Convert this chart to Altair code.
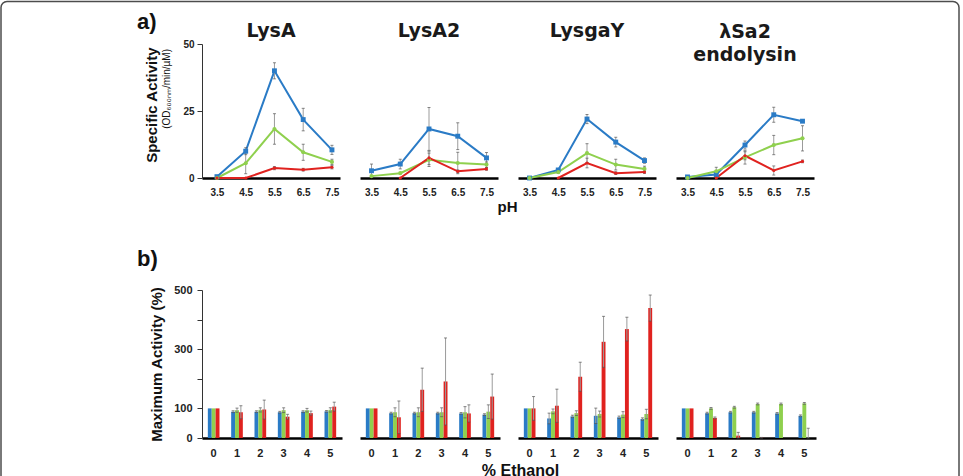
import altair as alt
import pandas as pd

# ---------------- categories ----------------
PH = ["3.5", "4.5", "5.5", "6.5", "7.5"]
ETHANOL = ["0", "1", "2", "3", "4", "5"]
ENZYMES = ["LysA", "LysA2", "LysgaY", "λSa2 endolysin"]
SERIES = ["Series 1", "Series 2", "Series 3"]
COLORS = ["#2a7bc6", "#8fd04e", "#e0221f"]

# ---------------- a) specific activity vs pH ----------------
lysa_blue = [0.5, 10.0, 40.0, 21.8, 10.5]
lysa_blue_err = [0.5, 1.3, 3.0, 4.2, 1.7]
lysa_green = [0.0, 5.5, 18.3, 9.6, 6.0]
lysa_green_err = [0.0, 3.9, 5.7, 3.0, 1.0]
lysa_red = [0.0, 0.0, 3.7, 3.1, 4.0]
lysa_red_err = [0.0, 0.0, 0.6, 0.5, 0.6]

lysa2_blue = [2.7, 5.2, 18.3, 15.6, 7.5]
lysa2_blue_err = [2.5, 1.8, 8.0, 5.0, 2.0]
lysa2_green = [0.7, 1.8, 6.8, 5.6, 5.0]
lysa2_green_err = [0.0, 0.0, 2.5, 4.0, 1.0]
lysa2_red = [None, 0.0, 7.5, 2.5, 3.4]
lysa2_red_err = [0.0, 0.0, 2.5, 0.5, 0.5]

lysgay_blue = [0.0, 3.0, 22.0, 13.4, 6.5]
lysgay_blue_err = [0.0, 0.5, 1.7, 1.8, 1.0]
lysgay_green = [0.0, 2.2, 9.3, 5.0, 3.4]
lysgay_green_err = [0.0, 0.5, 3.5, 2.0, 1.0]
lysgay_red = [None, 0.0, 5.6, 1.8, 2.2]
lysgay_red_err = [0.0, 0.0, 1.8, 0.5, 0.5]

sa2_blue = [0.4, 1.3, 12.3, 23.6, 21.2]
sa2_blue_err = [0.0, 0.5, 1.5, 2.8, 0.5]
sa2_green = [0.0, 2.5, 7.7, 12.3, 14.8]
sa2_green_err = [0.0, 1.5, 2.5, 3.6, 4.7]
sa2_red = [None, 0.0, 8.3, 2.8, 6.2]
sa2_red_err = [0.0, 0.0, 1.5, 1.7, 0.5]

# ---------------- b) maximum activity vs % ethanol ----------------
eth_lysa_blue = [100, 89, 89, 87, 89, 90]
eth_lysa_blue_err = [0, 3, 3, 3, 3, 3]
eth_lysa_green = [100, 94, 95, 94, 94, 95]
eth_lysa_green_err = [0, 7, 7, 8, 6, 7]
eth_lysa_red = [100, 87, 96, 72, 84, 106]
eth_lysa_red_err = [0, 22, 32, 8, 7, 15]

eth_lysa2_blue = [100, 84, 84, 84, 83, 79]
eth_lysa2_blue_err = [0, 3, 3, 3, 3, 3]
eth_lysa2_green = [100, 87, 87, 87, 87, 89]
eth_lysa2_green_err = [0, 15, 15, 15, 19, 23]
eth_lysa2_red = [100, 70, 163, 191, 83, 140]
eth_lysa2_red_err = [0, 55, 73, 147, 29, 76]

eth_lysgay_blue = [100, 66, 73, 75, 70, 64]
eth_lysgay_blue_err = [0, 18, 4, 26, 4, 4]
eth_lysgay_green = [100, 90, 84, 81, 79, 81]
eth_lysgay_green_err = [0, 8, 8, 10, 10, 16]
eth_lysgay_red = [100, 109, 207, 325, 368, 439]
eth_lysgay_red_err = [40, 56, 49, 86, 40, 44]

eth_sa2_blue = [100, 84, 87, 87, 83, 75]
eth_sa2_blue_err = [0, 3, 3, 3, 3, 3]
eth_sa2_green = [100, 100, 104, 115, 115, 117]
eth_sa2_green_err = [0, 3, 3, 3, 3, 3]
eth_sa2_red = [100, 68, 8, 1, 0, 0]
eth_sa2_red_err = [0, 3, 11, 1, 0, 33]

TOP = [
    [(lysa_blue, lysa_blue_err), (lysa_green, lysa_green_err), (lysa_red, lysa_red_err)],
    [(lysa2_blue, lysa2_blue_err), (lysa2_green, lysa2_green_err), (lysa2_red, lysa2_red_err)],
    [(lysgay_blue, lysgay_blue_err), (lysgay_green, lysgay_green_err), (lysgay_red, lysgay_red_err)],
    [(sa2_blue, sa2_blue_err), (sa2_green, sa2_green_err), (sa2_red, sa2_red_err)],
]
BOTTOM = [
    [(eth_lysa_blue, eth_lysa_blue_err), (eth_lysa_green, eth_lysa_green_err), (eth_lysa_red, eth_lysa_red_err)],
    [(eth_lysa2_blue, eth_lysa2_blue_err), (eth_lysa2_green, eth_lysa2_green_err), (eth_lysa2_red, eth_lysa2_red_err)],
    [(eth_lysgay_blue, eth_lysgay_blue_err), (eth_lysgay_green, eth_lysgay_green_err), (eth_lysgay_red, eth_lysgay_red_err)],
    [(eth_sa2_blue, eth_sa2_blue_err), (eth_sa2_green, eth_sa2_green_err), (eth_sa2_red, eth_sa2_red_err)],
]

FONT = "Liberation Sans"
TITLE_FONT = "DejaVu Sans"


def table(cats, key, series_data):
    rows = []
    for s, (vals, errs) in zip(SERIES, series_data):
        for c, v, e in zip(cats, vals, errs):
            if v is None:
                continue
            rows.append({key: c, "series": s, "value": v, "err": e,
                         "lo": max(v - e, 0.0), "hi": v + e})
    return pd.DataFrame(rows)


color = alt.Color("series:N", scale=alt.Scale(domain=SERIES, range=COLORS), legend=None)


def top_panel(i):
    df = table(PH, "pH", TOP[i])
    first = i == 0
    x_kw = dict(labelAngle=0, ticks=False, domainColor="#000", domainWidth=2.5,
                labelFont=FONT, labelFontSize=10, labelFontWeight="bold",
                labelColor="#222", labelPadding=9)
    if first:
        x_kw.update(title="pH", titleFont=FONT, titleFontSize=15, titleFontWeight="bold",
                    titleColor="#111", titleX=305, titleY=33, titleBaseline="alphabetic",
                    titleAlign="center")
    xscale = alt.Scale(type="point", padding=0.4, align=0.65 if first else 0.5)
    x = alt.X("pH:O", sort=PH, scale=xscale,
              axis=alt.Axis(**x_kw), title="pH" if first else None)
    yscale = alt.Scale(domain=[0, 50])
    if first:
        yaxis = alt.Axis(values=[0, 25, 50], title="Specific Activity", titleFont=FONT,
                         titleFontSize=15, titleFontWeight="bold", titleColor="#111",
                         titleX=-51, titleY=3, titleAlign="right", titleBaseline="middle",
                         titleAngle=270, labelFont=FONT, labelFontSize=10,
                         labelFontWeight="bold", labelColor="#222", labelPadding=3,
                         tickSize=5, tickColor="#333", domainColor="#333", grid=False)
    else:
        yaxis = None

    def yenc(field):
        return alt.Y(f"{field}:Q", scale=yscale, axis=yaxis,
                     title="Specific Activity" if first else None)

    base = alt.Chart(df)
    lines = base.mark_line(strokeWidth=2).encode(x=x, y=yenc("value"), color=color)
    errs = base.transform_filter("datum.err > 0")
    err = errs.mark_rule(color="#9b9b9b", strokeWidth=1).encode(x=x, y=yenc("lo"), y2="hi:Q")
    cap_hi = errs.mark_tick(color="#555", size=3, thickness=1).encode(x=x, y=yenc("hi"))
    cap_lo = errs.mark_tick(color="#555", size=3, thickness=1).encode(x=x, y=yenc("lo"))
    pts = base.mark_point(filled=True, opacity=1).encode(
        x=x, y=yenc("value"), color=color,
        shape=alt.Shape("series:N", scale=alt.Scale(domain=SERIES, range=["square", "circle", "circle"]), legend=None),
        size=alt.Size("series:O", scale=alt.Scale(domain=SERIES, range=[24, 10, 10]), legend=None),
    )
    layers = [lines, err, cap_hi, cap_lo, pts]
    if first:
        od = alt.Chart(pd.DataFrame({"t": ["(OD₆₀₀ₙₘ/min/µM)"]})).mark_text(
            font=FONT, fontSize=10, color="#111", angle=270, align="right", baseline="middle"
        ).encode(x=alt.value(-35), y=alt.value(5), text="t:N")
        layers.append(od)
    name = ENZYMES[i]
    text = ["λSa2", "endolysin"] if i == 3 else name
    offset = -40 if i == 3 else (-21 if first else -16)
    title = alt.TitleParams(text=text, font=TITLE_FONT, fontSize=19, fontWeight="bold",
                            color="#1a1a1a", offset=offset, frame="group", anchor="middle",
                            baseline="bottom", lineHeight=23)
    return alt.layer(*layers).properties(width=138, height=134, title=title)


def bottom_panel(i):
    df = table(ETHANOL, "ethanol", BOTTOM[i])
    first = i == 0
    x_kw = dict(labelAngle=0, ticks=False, domainColor="#000", domainWidth=2.5,
                labelFont=FONT, labelFontSize=11, labelFontWeight="bold",
                labelColor="#222", labelPadding=9)
    if first:
        x_kw.update(title="% Ethanol", titleFont=FONT, titleFontSize=16, titleFontWeight="bold",
                    titleColor="#111", titleX=318, titleY=37, titleBaseline="alphabetic",
                    titleAlign="center")
    x = alt.X("ethanol:O", sort=ETHANOL, scale=alt.Scale(paddingInner=0.5, paddingOuter=0.25),
              axis=alt.Axis(**x_kw), title="% Ethanol" if first else None)
    xo = alt.XOffset("series:N", sort=SERIES, scale=alt.Scale(domain=SERIES, paddingInner=0, paddingOuter=0))
    yscale = alt.Scale(domain=[0, 500])
    if first:
        yaxis = alt.Axis(values=[0, 100, 200, 300, 400, 500],
                         labelExpr="datum.value == 200 || datum.value == 400 ? '' : datum.label",
                         title="Maximum Activity (%)", titleFont=FONT, titleFontSize=15,
                         titleFontWeight="bold", titleColor="#111", titleX=-46,
                         titleBaseline="middle", titleAngle=270,
                         labelFont=FONT, labelFontSize=11, labelFontWeight="bold",
                         labelColor="#222", labelPadding=5, tickSize=5, tickColor="#333",
                         domainColor="#333", grid=False)
    else:
        yaxis = None

    def yenc(field):
        return alt.Y(f"{field}:Q", scale=yscale, axis=yaxis,
                     title="Maximum Activity (%)" if first else None)

    base = alt.Chart(df)
    bars = base.mark_bar().encode(x=x, xOffset=xo, y=yenc("value"), color=color)
    errs = base.transform_filter("datum.err > 0")
    err = errs.mark_rule(color="#9b9b9b", strokeWidth=1).encode(x=x, xOffset=xo, y=yenc("lo"), y2="hi:Q")
    cap_hi = errs.mark_tick(color="#555", size=3, thickness=1).encode(x=x, xOffset=xo, y=yenc("hi"))
    cap_lo = errs.mark_tick(color="#555", size=3, thickness=1).encode(x=x, xOffset=xo, y=yenc("lo"))
    layers = [bars, err, cap_hi, cap_lo]
    if first:
        one = pd.DataFrame({"k": [0]})
        frame = alt.Chart(one).mark_rect(fillOpacity=0, stroke="#4d4d4d", strokeWidth=1.5,
                                         cornerRadius=6).encode(
            x=alt.value(-201), x2=alt.value(757), y=alt.value(-288.5), y2=alt.value(195))
        panel_a = alt.Chart(pd.DataFrame({"t": ["a)"]})).mark_text(
            font=FONT, fontSize=22, fontWeight="bold", color="#111", align="left",
            baseline="alphabetic").encode(x=alt.value(-65), y=alt.value(-261), text="t:N")
        panel_b = alt.Chart(pd.DataFrame({"t": ["b)"]})).mark_text(
            font=FONT, fontSize=22, fontWeight="bold", color="#111", align="left",
            baseline="alphabetic").encode(x=alt.value(-65), y=alt.value(-24), text="t:N")
        layers += [frame, panel_a, panel_b]
    return alt.layer(*layers).properties(width=140, height=148)


tops = [top_panel(i) for i in range(4)]
bottoms = [bottom_panel(i) for i in range(4)]

chart = alt.concat(
    *tops, *bottoms, columns=4,
    spacing={"row": 112, "column": 18}, bounds="flush", align="each",
    padding={"left": 0, "top": 0, "right": 1, "bottom": 0},
    background="white",
).configure_view(stroke=None)

chart.save("out.html", embed_options={"renderer": "svg", "actions": False})
